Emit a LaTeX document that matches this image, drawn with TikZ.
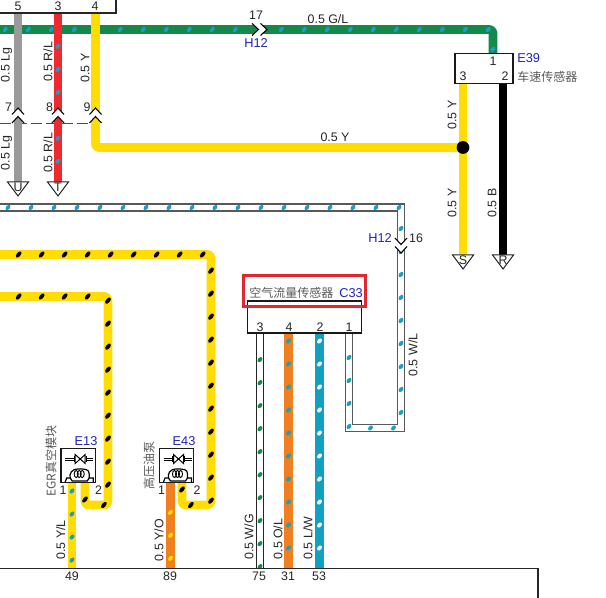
\documentclass[tikz,border=0pt]{standalone}
\usepackage{fontspec}
\setmainfont{Liberation Sans}
\newfontfamily\cjk{Noto Sans CJK SC}
\usetikzlibrary{decorations.markings}
\definecolor{wgreen}{HTML}{13894A}
\definecolor{wgray}{HTML}{9A9A9A}
\definecolor{wred}{HTML}{EE2A30}
\definecolor{wyellow}{HTML}{FFDD00}
\definecolor{worange}{HTML}{F07F20}
\definecolor{wblue}{HTML}{10A0C0}
\definecolor{wspot}{HTML}{18A0C4}
\definecolor{lblue}{HTML}{2222BB}
\definecolor{redbox}{HTML}{E0282E}
\tikzset{
  txt/.style={font=\fontsize{9.3}{10}\selectfont, inner sep=0pt, text=black!85},
  vtxt/.style={txt, rotate=90},
  code/.style={font=\fontsize{9.6}{10}\selectfont, inner sep=0pt, text=lblue},
  cn/.style={font=\cjk\fontsize{9}{10}\selectfont, inner sep=0pt, text=black!65},
  wire/.style={line width=6.5pt, rounded corners=2.5pt, line join=round},
  thick wire/.style={line width=6.5pt},
  bwire/.style={draw=#1, line width=1pt, double=white, double distance=4.2pt},
  spots/.style n args={3}{postaction={decorate, decoration={markings,
     mark=between positions #2pt and -1pt step 17.25pt with {\pgftransformresetnontranslations
     \fill[#1, rotate=50] (0,0) ellipse (#3pt and 1.5pt);}}}},
  box/.style={draw=black!90, line width=0.95pt, fill=white},
  edge/.style={draw=black!85, line width=1pt},
  chevron/.pic={
    \fill[white] (-6,-4.5) -- (0,-11) -- (6,-4.5) -- (6,4) -- (0,-2.5) -- (-6,4) -- cycle;
    \draw[black, line width=0.8pt] (-6,-4.5) -- (0,-11) -- (6,-4.5);
    \draw[black, line width=0.8pt] (-6,4) -- (0,-2.5) -- (6,4);
  },
  sensoricon/.pic={
    \draw[black, line width=0.75pt] (-13,-25) -- (-4,-25) (-13,-23) -- (-4,-23) (-4,-27) -- (-4,-21);
    \draw[black, line width=0.75pt] (-3,-28.5) -- (7,-19.5) -- (7,-28.5) -- (-3,-19.5) -- cycle;
    \draw[black, line width=0.75pt] (8,-27) -- (8,-21) (8,-25) -- (15,-25) (8,-23) -- (15,-23);
    \draw[black, line width=0.9pt] (-13,-1) -- (-11.5,-5) -- (-8,-5) .. controls (-9,-9) and (-7,-14) .. (0,-14)
       .. controls (7,-14) and (11,-14) .. (11,-9) -- (11,-5) -- (15,-5) -- (15,-1);
    \draw[black, line width=0.9pt] (-8,-5) -- (-6,-2) -- (9,-2) -- (11,-5);
    \foreach \cx in {-2,1,4}{\draw[black, line width=0.7pt] (\cx,-9) ellipse (2 and 3.5);}
  }
}
\begin{document}
\begin{tikzpicture}[x=0.75pt,y=-0.75pt]
\useasboundingbox (0,0) rectangle (606,598);
\fill[white] (0,0) rectangle (606,598);

% coordinates
\coordinate (gS) at (0,29.5); \coordinate (gC) at (493,29.5);
\coordinate (wlS) at (0,207.5); \coordinate (wlA) at (401,207.5); \coordinate (wlB) at (401,428); \coordinate (wlC) at (349,428);
\coordinate (ybS) at (0,254.5); \coordinate (ybA) at (211,254.5); \coordinate (ybB) at (211,505); \coordinate (ybC) at (182,505);
\coordinate (ycS) at (0,296.5); \coordinate (ycA) at (108,296.5); \coordinate (ycB) at (108,505); \coordinate (ycC) at (85,505);
\coordinate (t5) at (18,13); \coordinate (t3) at (58,13); \coordinate (t4) at (95.5,13);
\coordinate (yC) at (95.5,147.5);
\coordinate (dS) at (0,123); \coordinate (dE) at (91,123);
\coordinate (topA) at (0,13); \coordinate (topB) at (116,13); \coordinate (topC) at (116,0);
\coordinate (botA) at (0,568.5); \coordinate (botB) at (538,568.5); \coordinate (botC) at (538,598);

% green wire
\draw[wire, wgreen, spots={wspot}{4}{2.2}] (gS) -- (gC) -- (493,53.5);

% dashed shield line
\draw[black!70, line width=0.7pt, dash pattern=on 8.5pt off 3pt] (dS) -- (dE);

% upper vertical wires
\draw[thick wire, wgray] (t5) -- (18,182);
\draw[thick wire, wred, spots={wspot}{25}{2.2}] (t3) -- (58,182);
\draw[wire, wyellow] (t4) -- (yC) -- (463,147.5);
\draw[thick wire, wyellow] (463,83) -- (463,255);
\draw[thick wire, black] (503,83) -- (503,255);

% chevrons
\pic at (18,119) {chevron};
\pic at (58,119) {chevron};
\pic at (95.5,119) {chevron};

% W/L wire (white)
\draw[bwire=black!65, spots={wspot}{6}{2.2}] (wlS) -- (wlA) -- (wlB) -- (wlC) -- (349,334);
\pic[rotate=180] at (401,242) {chevron};
% green chevron
\pic[rotate=-90] at (256,29.5) {chevron};

% yellow wires with black spots
\draw[wire, wyellow, spots={black}{14}{2.8}] (ybS) -- (ybA) -- (ybB) -- (ybC) -- (182,483);
\draw[wire, wyellow, spots={black}{14}{2.8}] (ycS) -- (ycA) -- (ycB) -- (ycC) -- (85,483);

% lower vertical wires
\draw[thick wire, wyellow, spots={wspot}{6}{2.2}] (72,483) -- (72,568);
\draw[thick wire, worange, spots={wyellow}{22}{2.2}] (170.5,483) -- (170.5,568);
\draw[bwire=black!85, spots={wgreen}{20}{2.2}] (260,333) -- (260,568);
\draw[thick wire, worange, spots={wspot}{6}{2.2}] (288.5,333) -- (288.5,568);
\draw[line width=6.8pt, wblue, spots={white}{6}{2.2}] (319.5,333) -- (319.5,568);

% junction
\node[circle, fill=black, inner sep=0pt, minimum size=9.6pt] (jn) at (463,147.5) {};

% frame lines
\draw[edge] (topA) -- (topB) -- (topC);
\draw[edge] (botA) -- (botB) -- (botC);

% triangles
\foreach \tx/\ty/\lab in {18/182/U,58/182/T,463/255/S,503/255/R}{
  \draw[black!85, line width=0.75pt, fill=white] (\tx-10.5,\ty) -- (\tx+10.5,\ty) -- (\tx,\ty+14) -- cycle;
  \node[txt] at (\tx,\ty+5.2) {\lab};
}

% E39
\node[box, minimum width=43.5pt, minimum height=22.5pt, inner sep=0pt] (E39) at (484,68.3) {};
\node[txt] (p39a) at (493,61) {1};
\node[txt] (p39b) at (463,76) {3};
\node[txt] (p39c) at (505,76) {2};
\node[code, anchor=west] (lE39) at (517,58) {E39};
\node[cn, anchor=west] (cE39) at (517,77) {车速传感器};

% C33
\node[box, minimum width=85pt, minimum height=24pt, inner sep=0pt] (C33) at (304.5,317) {};
\node[txt] (pc3) at (260,327) {3};
\node[txt] (pc4) at (289,327) {4};
\node[txt] (pc2) at (320,327) {2};
\node[txt] (pc1) at (349,327) {1};
\node[cn, anchor=west] (cC33) at (249,293) {空气流量传感器};
\node[code, anchor=west] (lC33) at (339,293) {C33};
\node[draw=redbox, line width=2.2pt, minimum width=91.5pt, minimum height=23.5pt, inner sep=0pt] (hl) at (304.5,291) {};

% E13, E43
\node[box, minimum width=26pt, minimum height=26pt, inner sep=0pt] (E13) at (78.2,465.5) {};
\node[box, minimum width=26pt, minimum height=26pt, inner sep=0pt] (E43) at (176.5,465.5) {};
\pic at (78.2,483) {sensoricon};
\pic at (176.5,483) {sensoricon};
\node[code] (lE13) at (86,441) {E13};
\node[code] (lE43) at (184,441) {E43};
\node[cn, rotate=90] (cE13) at (51,461) {EGR真空模块};
\node[cn, rotate=90] (cE43) at (149,465) {高压油泵};
\node[txt] at (63,490) {1};
\node[txt] at (98.5,490) {2};
\node[txt] at (161.5,490) {1};
\node[txt] at (197,490) {2};

% pin labels
\node[txt] at (18,6) {5};
\node[txt] at (58,6) {3};
\node[txt] at (95,6) {4};
\node[txt] at (8.5,107) {7};
\node[txt] at (49.5,107) {8};
\node[txt] at (87,107) {9};
\node[txt] at (256,15) {17};
\node[code] at (256,43) {H12};
\node[code] at (380,238) {H12};
\node[txt] at (416,238) {16};
\node[txt] at (72,576) {49};
\node[txt] at (170,576) {89};
\node[txt] at (259,576) {75};
\node[txt] at (288,576) {31};
\node[txt] at (319,576) {53};

% wire labels
\node[vtxt] at (6.5,65) {0.5 Lg};
\node[vtxt] at (48,62) {0.5 R/L};
\node[vtxt] at (85,68) {0.5 Y};
\node[vtxt] at (6.5,153) {0.5 Lg};
\node[vtxt] at (48,153) {0.5 R/L};
\node[txt] at (335,137) {0.5 Y};
\node[txt] at (328,19) {0.5 G/L};
\node[vtxt] at (452,115) {0.5 Y};
\node[vtxt] at (452,203) {0.5 Y};
\node[vtxt] at (492,203) {0.5 B};
\node[vtxt] at (413,355) {0.5 W/L};
\node[vtxt] at (60.7,540) {0.5 Y/L};
\node[vtxt] at (159,540) {0.5 Y/O};
\node[vtxt] at (249,537) {0.5 W/G};
\node[vtxt] at (278,539) {0.5 O/L};
\node[vtxt] at (308,538) {0.5 L/W};
\end{tikzpicture}
\end{document}
